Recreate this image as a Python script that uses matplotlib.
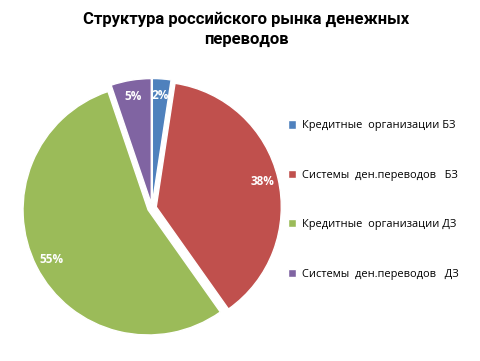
import matplotlib.pyplot as plt

# доли рынка денежных переводов, %
labels = ["Кредитные  организации БЗ", "Системы  ден.переводов   БЗ",
          "Кредитные  организации ДЗ", "Системы  ден.переводов   ДЗ"]
shares = [2.4, 37.8, 54.6, 5.2]
colors = ["#4F81BD", "#C0504D", "#9BBB59", "#8064A2"]

plt.rcParams['font.family'] = ['Open Sans', 'DejaVu Sans']

fig = plt.figure(figsize=(4.81, 3.61), dpi=100)
ax = fig.add_axes([0.030, 0.043, 0.572, 0.762])

wedges, texts, autotexts = ax.pie(
    shares, colors=colors, startangle=90, counterclock=False,
    explode=[0.035] * 4, autopct='%1.0f%%', pctdistance=0.87,
    wedgeprops=dict(edgecolor='white', linewidth=1),
    textprops=dict(color='white', fontsize=8.5, fontweight='bold'))
ax.set_xlim(-1.1, 1.1)
ax.set_ylim(-1.1, 1.1)
ax.set_aspect('equal')

fig.suptitle("Структура российского рынка денежных\nпереводов",
             x=0.512, fontsize=12, fontweight='bold', y=0.968, linespacing=1.4,
             family=['Roboto', 'DejaVu Sans'])

fig.legend(wedges, labels, loc='upper left', bbox_to_anchor=(0.578, 0.694),
           frameon=False, fontsize=7.9, labelspacing=3.5, handlelength=0.75,
           handleheight=0.75, handletextpad=0.5)

fig.savefig("out.png", dpi=100)
